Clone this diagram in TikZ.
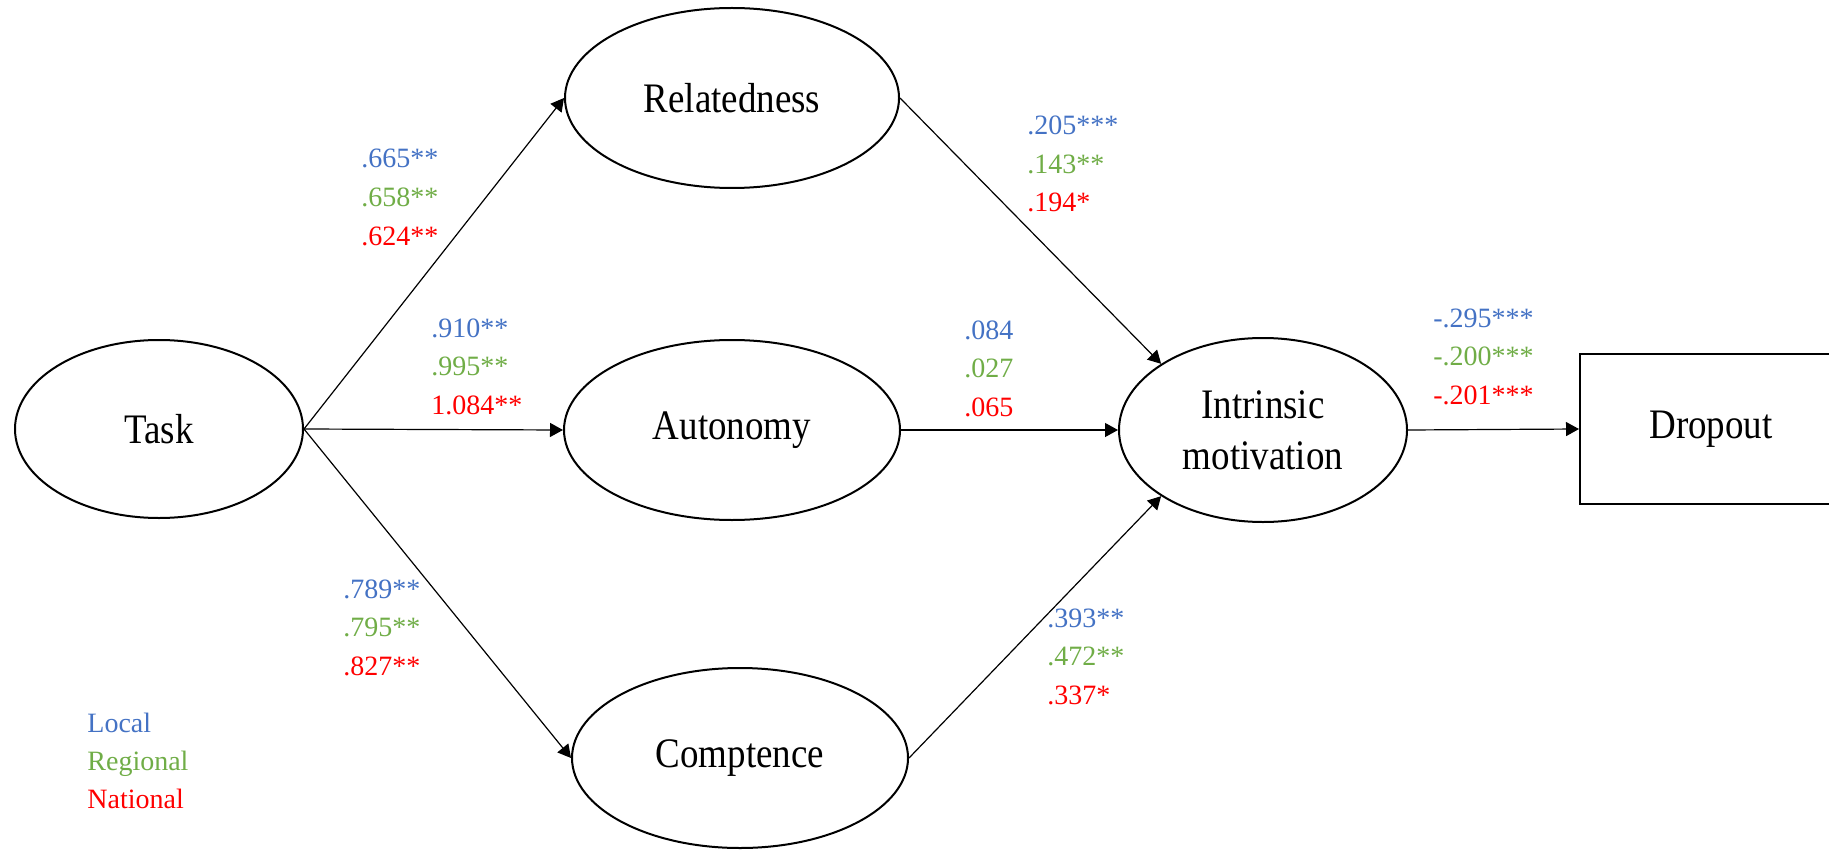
\documentclass[tikz,border=0pt]{standalone}
\usepackage{fontspec}
\setmainfont{Liberation Serif}
\newfontfamily\lblfont{Liberation Serif}[FakeStretch=0.88]
\usetikzlibrary{shapes.geometric,arrows.meta}

\definecolor{cLocal}{HTML}{4472C4}
\definecolor{cRegional}{HTML}{70AD47}
\definecolor{cNational}{HTML}{FF0000}

% three stacked path estimates (local, regional, national)
\newcommand\coefs[6]{%
  \node[coef,text=cLocal]    (#1-l) at (#2,#3)      {#4};
  \node[coef,text=cRegional] (#1-r) at (#2,#3+38.5) {#5};
  \node[coef,text=cNational] (#1-n) at (#2,#3+77)   {#6};
}

\tikzset{
  latent/.style={ellipse,draw,line width=1pt,inner sep=0pt,align=center,
    font=\lblfont\fontsize{21}{25.5}\selectfont},
  observed/.style={rectangle,draw,line width=1pt,inner sep=0pt,
    font=\lblfont\fontsize{21}{25.5}\selectfont},
  path/.style={line width=0.6pt,-{Triangle[length=6.5pt,width=7pt]}},
  coef/.style={anchor=base west,inner sep=0pt,font=\fontsize{14}{16}\selectfont},
}

\begin{document}
\begin{tikzpicture}[x=0.5pt,y=-0.5pt]
\useasboundingbox (0,0) rectangle (1829,850);
\clip (0,0) rectangle (1829,850);

% constructs
\node[latent,minimum width=144pt,minimum height=89pt] (task) at (159,429) {Task};
\node[latent,minimum width=167pt,minimum height=90pt] (rel)  at (732,98)  {Relatedness};
\node[latent,minimum width=168pt,minimum height=90pt] (aut)  at (732,430) {Autonomy};
\node[latent,minimum width=168pt,minimum height=90pt] (comp) at (740,758) {Comptence};
\node[latent,minimum width=144pt,minimum height=92pt] (intr) at (1263,430) {Intrinsic\\motivation};
\node[observed,minimum width=131pt,minimum height=75pt] (drop) at (1711,429) {Dropout};

% structural paths
\draw[path] (task.east) -- (rel.west);
\draw[path] (task.east) -- (aut.west);
\draw[path] (task.east) -- (comp.west);
\draw[path] (rel.east)  -- (intr.147);
\draw[path] (aut.east)  -- (intr.west);
\draw[path] (comp.east) -- (intr.213);
\draw[path] (intr.east) -- (drop.west);

% estimates
\coefs{tr}{361}{168}{.665**}{.658**}{.624**}
\coefs{ta}{431}{337}{.910**}{.995**}{1.084**}
\coefs{tc}{343}{598}{.789**}{.795**}{.827**}
\coefs{ri}{1027}{135}{.205***}{.143**}{.194*}
\coefs{ai}{964}{339}{.084}{.027}{.065}
\coefs{ci}{1047}{627}{.393**}{.472**}{.337*}
\coefs{id}{1433}{327}{-.295***}{-.200***}{-.201***}

% legend
\node[coef,text=cLocal]    (leg-l) at (87,732) {Local};
\node[coef,text=cRegional] (leg-r) at (87,770) {Regional};
\node[coef,text=cNational] (leg-n) at (87,808) {National};
\end{tikzpicture}
\end{document}
